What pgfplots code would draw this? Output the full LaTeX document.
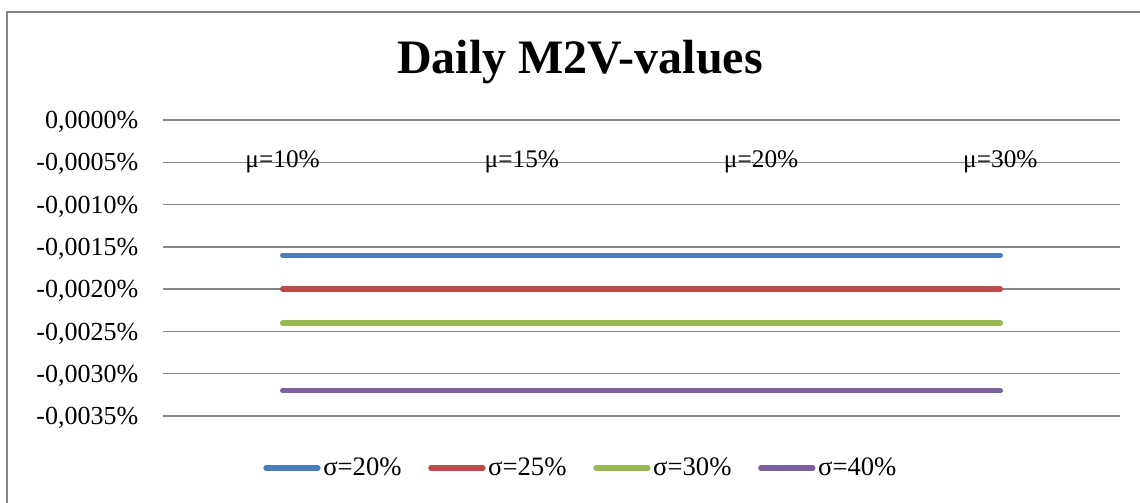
\documentclass[border=0pt]{standalone}
\usepackage{pgfplots}
\pgfplotsset{compat=1.18}
\usepackage{fontspec}
\setmainfont{Liberation Serif}
\definecolor{cblue}{HTML}{4A7EBB}
\definecolor{cred}{HTML}{BE4B48}
\definecolor{cgreen}{HTML}{98B954}
\definecolor{cpurple}{HTML}{7D60A0}
\definecolor{gridgray}{HTML}{868686}
\begin{document}
\begin{tikzpicture}
\useasboundingbox (0pt,0pt) rectangle (855pt,377.25pt);
\draw[gridgray, line width=1.1pt] (5.25pt,-2pt) -- (5.25pt,368.25pt) -- (857pt,368.25pt);
\node[font=\fontsize{36}{42}\selectfont\bfseries] at (435pt,330.75pt) {Daily M2V-values};
\begin{axis}[
  at={(122.25pt,65.25pt)}, anchor=south west,
  scale only axis, width=717.75pt, height=222pt,
  xmin=-0.5, xmax=3.5, ymin=-0.0035, ymax=0,
  scaled y ticks=false,
  axis line style={draw=none},
  ymajorgrids,
  grid style={gridgray, line width=1.1pt},
  xtick={0,1,2,3},
  xticklabels={{μ=10\%},{μ=15\%},{μ=20\%},{μ=30\%}},
  ytick={0,-0.0005,-0.001,-0.0015,-0.002,-0.0025,-0.003,-0.0035},
  yticklabels={{0,0000\%},{-0,0005\%},{-0,0010\%},{-0,0015\%},{-0,0020\%},{-0,0025\%},{-0,0030\%},{-0,0035\%}},
  major tick length=0pt,
  tick style={draw=none},
  xticklabel pos=upper,
  xticklabel style={anchor=base, yshift=-36pt, font=\fontsize{19}{22}\selectfont},
  yticklabel style={anchor=east, xshift=-15pt, yshift=-1.5pt, font=\fontsize{19.5}{22}\selectfont},
  clip=false,
  legend columns=4,
  legend style={at={(0.437,-0.176)}, anchor=center, draw=none, fill=none,
    font=\fontsize{20}{24}\selectfont,
    /tikz/every even column/.append style={column sep=18pt},
    inner sep=0pt},
  legend image code/.code={\draw[#1, line cap=round] (0pt,0pt) -- (39pt,0pt);},
]
\addplot[cblue, line width=4pt, line cap=round] coordinates {(0,-0.0016) (1,-0.0016) (2,-0.0016) (3,-0.0016)};
\addlegendentry{σ=20\%}
\addplot[cred, line width=4pt, line cap=round] coordinates {(0,-0.0020) (1,-0.0020) (2,-0.0020) (3,-0.0020)};
\addlegendentry{σ=25\%}
\addplot[cgreen, line width=4pt, line cap=round] coordinates {(0,-0.0024) (1,-0.0024) (2,-0.0024) (3,-0.0024)};
\addlegendentry{σ=30\%}
\addplot[cpurple, line width=4pt, line cap=round] coordinates {(0,-0.0032) (1,-0.0032) (2,-0.0032) (3,-0.0032)};
\addlegendentry{σ=40\%}
\end{axis}
\end{tikzpicture}
\end{document}
